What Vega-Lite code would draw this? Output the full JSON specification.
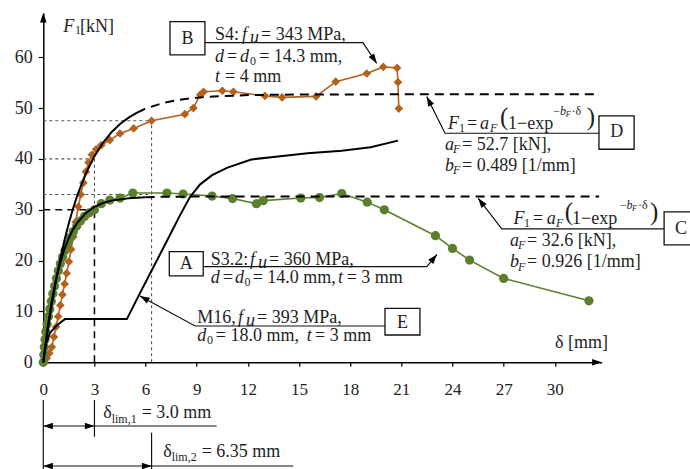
{
"$schema":"https://vega.github.io/schema/vega-lite/v6.json",
"width":558.4,"height":349.3,
"autosize":{"type":"none"},
"padding":{"left":43.3,"top":13,"right":88.3,"bottom":106.7},
"background":"white",
"config":{"view":{"stroke":null},"font":"Liberation Serif","text":{"font":"Liberation Serif","color":"#1e1e1e"}},
"datasets":{
"s4":[{"x":0,"y":0},{"x":0.2,"y":0.8},{"x":0.35,"y":1.8},{"x":0.5,"y":3},{"x":0.62,"y":5},{"x":0.75,"y":7},{"x":0.87,"y":9},{"x":1.0,"y":11.2},{"x":1.12,"y":13.3},{"x":1.25,"y":15.4},{"x":1.37,"y":17.5},{"x":1.5,"y":19.8},{"x":1.63,"y":22.2},{"x":1.76,"y":24.7},{"x":1.9,"y":27.6},{"x":2.05,"y":30.6},{"x":2.2,"y":33},{"x":2.35,"y":35.3},{"x":2.5,"y":37.5},{"x":2.65,"y":39.3},{"x":2.85,"y":40.8},{"x":3.1,"y":41.9},{"x":3.4,"y":42.7},{"x":3.9,"y":43.7},{"x":4.5,"y":45},{"x":5.3,"y":46},{"x":6.35,"y":47.5},{"x":8.3,"y":48.8},{"x":8.8,"y":50},{"x":9.2,"y":52.6},{"x":9.4,"y":53.2},{"x":10.5,"y":53.4},{"x":11.15,"y":53.2},{"x":13.0,"y":52.4},{"x":14.0,"y":52.1},{"x":16.0,"y":52.3},{"x":17.15,"y":55.2},{"x":18.97,"y":56.8},{"x":19.94,"y":58.1},{"x":20.75,"y":57.9},{"x":20.8,"y":55.1},{"x":20.85,"y":49.9}],
"s32":[{"x":0,"y":0},{"x":0.03,"y":1.5},{"x":0.06,"y":3},{"x":0.1,"y":4.5},{"x":0.15,"y":6},{"x":0.22,"y":7.5},{"x":0.3,"y":9},{"x":0.38,"y":10.5},{"x":0.47,"y":12},{"x":0.56,"y":13.5},{"x":0.66,"y":15},{"x":0.77,"y":16.5},{"x":0.88,"y":18},{"x":1.0,"y":19.4},{"x":1.13,"y":20.7},{"x":1.27,"y":22},{"x":1.42,"y":23.3},{"x":1.58,"y":24.5},{"x":1.76,"y":25.7},{"x":1.96,"y":26.8},{"x":2.18,"y":27.8},{"x":2.42,"y":28.7},{"x":2.7,"y":29.4},{"x":3.0,"y":30},{"x":3.4,"y":31.2},{"x":3.9,"y":31.9},{"x":4.5,"y":32.3},{"x":5.25,"y":33.3},{"x":7.25,"y":33.3},{"x":8.2,"y":33.1},{"x":9.9,"y":32.7},{"x":11.1,"y":32.2},{"x":12.5,"y":31.2},{"x":12.9,"y":31.8},{"x":15.1,"y":32.3},{"x":16.2,"y":32.4},{"x":17.5,"y":33.2},{"x":19.0,"y":31.5},{"x":20.0,"y":30.0},{"x":23.0,"y":24.9},{"x":24.0,"y":22.4},{"x":25.0,"y":20.1},{"x":27.0,"y":16.5},{"x":32.0,"y":12.1}],
"m16":[{"x":0,"y":0},{"x":0.15,"y":3.5},{"x":0.4,"y":5.8},{"x":0.8,"y":7.3},{"x":1.27,"y":8.5},{"x":4.9,"y":8.5},{"x":5.7,"y":13.8},{"x":6.5,"y":19},{"x":7.3,"y":24.2},{"x":8.0,"y":28.8},{"x":8.6,"y":32.5},{"x":9.2,"y":35},{"x":9.9,"y":36.8},{"x":10.8,"y":38.3},{"x":12.2,"y":39.9},{"x":13.5,"y":40.4},{"x":15.5,"y":41.1},{"x":17.5,"y":41.6},{"x":19.2,"y":42.3},{"x":20.8,"y":43.6}],
"fit":[
{"c":"D","part":"solid","x":0,"y":0},{"c":"D","part":"solid","x":0.25,"y":6.07},{"c":"D","part":"solid","x":0.5,"y":11.43},{"c":"D","part":"solid","x":0.75,"y":16.18},{"c":"D","part":"solid","x":1,"y":20.38},{"c":"D","part":"solid","x":1.25,"y":24.1},{"c":"D","part":"solid","x":1.5,"y":27.39},{"c":"D","part":"solid","x":1.75,"y":30.3},{"c":"D","part":"solid","x":2,"y":32.88},{"c":"D","part":"solid","x":2.5,"y":37.18},{"c":"D","part":"solid","x":3,"y":40.55},{"c":"D","part":"solid","x":3.5,"y":43.18},{"c":"D","part":"solid","x":4,"y":45.25},{"c":"D","part":"solid","x":4.5,"y":46.86},{"c":"D","part":"solid","x":5,"y":48.13},{"c":"D","part":"solid","x":5.5,"y":49.12},
{"c":"D","part":"dash","x":5.5,"y":49.12},{"c":"D","part":"dash","x":6,"y":49.9},{"c":"D","part":"dash","x":7,"y":50.98},{"c":"D","part":"dash","x":8,"y":51.65},{"c":"D","part":"dash","x":9,"y":52.05},{"c":"D","part":"dash","x":10,"y":52.3},{"c":"D","part":"dash","x":12,"y":52.55},{"c":"D","part":"dash","x":15,"y":52.67},{"c":"D","part":"dash","x":20,"y":52.7},{"c":"D","part":"dash","x":32.6,"y":52.7},
{"c":"C","part":"solid","x":0,"y":0},{"c":"C","part":"solid","x":0.1,"y":2.88},{"c":"C","part":"solid","x":0.25,"y":6.74},{"c":"C","part":"solid","x":0.5,"y":12.08},{"c":"C","part":"solid","x":0.75,"y":16.32},{"c":"C","part":"solid","x":1,"y":19.69},{"c":"C","part":"solid","x":1.25,"y":22.35},{"c":"C","part":"solid","x":1.5,"y":24.47},{"c":"C","part":"solid","x":1.75,"y":26.15},{"c":"C","part":"solid","x":2,"y":27.48},{"c":"C","part":"solid","x":2.5,"y":29.38},{"c":"C","part":"solid","x":3,"y":30.57},{"c":"C","part":"solid","x":3.5,"y":31.32},{"c":"C","part":"solid","x":4,"y":31.8},{"c":"C","part":"solid","x":5,"y":32.28},{"c":"C","part":"solid","x":6,"y":32.47},
{"c":"C","part":"dash","x":6,"y":32.47},{"c":"C","part":"dash","x":7,"y":32.55},{"c":"C","part":"dash","x":8,"y":32.58},{"c":"C","part":"dash","x":10,"y":32.6},{"c":"C","part":"dash","x":32.6,"y":32.6}],
"dotted":[{"x":0,"y":47.5,"x2":6.35,"y2":47.5},{"x":6.35,"y":0,"x2":6.35,"y2":47.5},{"x":0,"y":40,"x2":3,"y2":40},{"x":3,"y":30,"x2":3,"y2":40},{"x":0,"y":33,"x2":6.35,"y2":33}],
"dashed":[{"x":0,"y":30,"x2":3,"y2":30},{"x":3,"y":0,"x2":3,"y2":30}],
"dims":[{"x":0,"y":-7.42,"x2":0,"y2":-21},{"x":3,"y":-7.42,"x2":3,"y2":-14.64},{"x":0,"y":-12.53,"x2":10.17,"y2":-12.53},{"x":6.35,"y":-13.85,"x2":6.35,"y2":-21},{"x":0,"y":-20.4,"x2":14.66,"y2":-20.4}],
"leaders":[
{"id":"B","k":0,"x":9.48,"y":62.88},{"id":"B","k":1,"x":18.75,"y":62.88},{"id":"B","k":2,"x":19.55,"y":58.8},
{"id":"D","k":0,"x":32.59,"y":45.05},{"id":"D","k":1,"x":23.56,"y":45.05},{"id":"D","k":2,"x":22.49,"y":52.25},
{"id":"C","k":0,"x":36.41,"y":26.23},{"id":"C","k":1,"x":26.89,"y":26.23},{"id":"C","k":2,"x":25.51,"y":32.26},
{"id":"A","k":0,"x":9.38,"y":18.81},{"id":"A","k":1,"x":22.49,"y":18.81},{"id":"A","k":2,"x":23.09,"y":21.21},
{"id":"E","k":0,"x":20.04,"y":7.14},{"id":"E","k":1,"x":8.9,"y":7.14},{"id":"E","k":2,"x":5.67,"y":13.04}],
"heads":[{"id":"B","x":19.36,"y":59.81},{"id":"D","x":22.65,"y":51.19},{"id":"C","x":25.72,"y":31.32},{"id":"A","x":22.86,"y":20.31},{"id":"E","x":5.98,"y":12.47},{"id":"L1","x":0.352,"y":-12.53},{"id":"R1","x":2.648,"y":-12.53},{"id":"L2","x":0.352,"y":-20.4},{"id":"R2","x":5.998,"y":-20.4},{"id":"AX","x":32.398,"y":0},{"id":"AY","x":0,"y":67.52}],
"boxes":[{"x":7.43,"x2":9.48,"y":67.01,"y2":60.46},{"x":32.59,"x2":34.65,"y":48.46,"y2":41.9},{"x":36.41,"x2":38.52,"y":29.57,"y2":23.08},{"x":7.39,"x2":9.38,"y":21.76,"y2":16.98},{"x":20.04,"x2":22.09,"y":10.62,"y2":5.37}],
"labels":[
{"role":"box","t":"B","x":8.46,"y":63.57},{"role":"box","t":"D","x":33.63,"y":45.21},{"role":"box","t":"C","x":37.4,"y":26.23},{"role":"box","t":"A","x":8.39,"y":19.34},{"role":"box","t":"E","x":21.07,"y":7.73},
{"role":"n","t":"S4:","x":10.07,"y":63.41},{"role":"n","t":"= 343 MPa,","x":12.77,"y":63.41},
{"role":"n","t":"=","x":10.77,"y":59.08},{"role":"n","t":"= 14.3 mm,","x":12.66,"y":59.08},
{"role":"n","t":"= 4 mm","x":10.66,"y":55.14},
{"role":"n","t":"S3.2:","x":9.82,"y":19.14},{"role":"n","t":"= 360 MPa,","x":13.24,"y":19.14},
{"role":"n","t":"=","x":10.54,"y":15.54},{"role":"n","t":"= 14.0 mm,","x":12.28,"y":15.54},{"role":"n","t":"= 3 mm","x":17.79,"y":15.54},
{"role":"n","t":"M16,","x":9.03,"y":7.67},{"role":"n","t":"= 393 MPa,","x":12.54,"y":7.67},
{"role":"n","t":"= 18.0 mm,","x":10.12,"y":4.19},{"role":"n","t":"= 3 mm","x":15.94,"y":4.19},
{"role":"n","t":"=","x":24.85,"y":45.84},{"role":"n","t":"1−exp","x":27.26,"y":45.84},
{"role":"n","t":"= 52.7 [kN],","x":24.56,"y":41.77},{"role":"n","t":"= 0.489 [1/mm]","x":24.56,"y":37.64},
{"role":"n","t":"=","x":28.72,"y":27.21},{"role":"n","t":"1−exp","x":31.01,"y":27.21},
{"role":"n","t":"= 32.6 [kN],","x":28.37,"y":22.88},{"role":"n","t":"= 0.926 [1/mm]","x":28.37,"y":18.69},
{"role":"n","t":"δ","x":3.52,"y":-11.02},{"role":"n","t":"= 3.0 mm","x":5.77,"y":-11.02},
{"role":"n","t":"δ","x":7.04,"y":-18.69},{"role":"n","t":"= 6.35 mm","x":9.29,"y":-18.69},
{"role":"n","t":"δ [mm]","x":30.01,"y":2.75},{"role":"n","t":"[kN]","x":2.15,"y":65.04},
{"role":"i","t":"f","x":11.65,"y":63.41},{"role":"i","t":"u","x":12.12,"y":62.82},
{"role":"i","t":"d","x":10.07,"y":59.08},{"role":"i","t":"d","x":11.54,"y":59.08},{"role":"i","t":"t","x":10.07,"y":55.14},
{"role":"i","t":"f","x":12.12,"y":19.14},{"role":"i","t":"u","x":12.59,"y":18.55},
{"role":"i","t":"d","x":9.82,"y":15.54},{"role":"i","t":"d","x":11.24,"y":15.54},{"role":"i","t":"t","x":17.28,"y":15.54},
{"role":"i","t":"f","x":11.42,"y":7.67},{"role":"i","t":"u","x":11.89,"y":7.08},
{"role":"i","t":"d","x":9.03,"y":4.19},{"role":"i","t":"t","x":15.45,"y":4.19},
{"role":"i","t":"F","x":23.74,"y":45.84},{"role":"i","t":"a","x":25.61,"y":45.84},{"role":"i","t":"a","x":23.56,"y":41.77},{"role":"i","t":"b","x":23.56,"y":37.64},
{"role":"i","t":"F","x":27.57,"y":27.21},{"role":"i","t":"a","x":29.53,"y":27.21},{"role":"i","t":"a","x":27.37,"y":22.88},{"role":"i","t":"b","x":27.37,"y":18.69},
{"role":"i","t":"F","x":1.17,"y":65.04},
{"role":"is","t":"F","x":26.2,"y":45.21},{"role":"is","t":"F","x":24.03,"y":41.08},{"role":"is","t":"F","x":24.03,"y":36.95},
{"role":"is","t":"F","x":30.07,"y":26.52},{"role":"is","t":"F","x":27.84,"y":22.19},{"role":"is","t":"F","x":27.84,"y":18.0},
{"role":"is","t":"b","x":30.31,"y":48.65},{"role":"is","t":"b","x":34.21,"y":30.16},
{"role":"iss","t":"F","x":30.64,"y":48.26},{"role":"iss","t":"F","x":34.53,"y":29.77},
{"role":"ns","t":"0","x":12.12,"y":58.49},{"role":"ns","t":"0","x":11.8,"y":14.91},{"role":"ns","t":"0","x":9.6,"y":3.6},
{"role":"ns","t":"1","x":24.38,"y":45.21},{"role":"ns","t":"1","x":28.19,"y":26.52},{"role":"ns","t":"1","x":1.86,"y":64.59},
{"role":"ns","t":"−","x":29.91,"y":48.65},{"role":"ns","t":"·δ","x":30.98,"y":48.65},
{"role":"ns","t":"−","x":33.82,"y":30.16},{"role":"ns","t":"·δ","x":34.88,"y":30.16},
{"role":"ns","t":"lim,1","x":4.01,"y":-11.88},{"role":"ns","t":"lim,2","x":7.53,"y":-19.36},
{"role":"p","t":"(","x":26.79,"y":46.69},{"role":"p","t":")","x":31.87,"y":46.69},
{"role":"p","t":"(","x":30.58,"y":28.0},{"role":"p","t":")","x":35.58,"y":28.0}]
},
"encoding":{
"x":{"field":"x","type":"quantitative","scale":{"domain":[0,32.75],"nice":false,"zero":false},
"axis":{"values":[0,3,6,9,12,15,18,21,24,27,30],"title":null,"grid":false,"domainColor":"#000","domainWidth":1.5,"tickColor":"#000","tickWidth":1.2,"tickSize":4,"labelFont":"Liberation Serif","labelFontSize":17,"labelColor":"#222","labelPadding":15,"labelFlush":false,"labelOverlap":false}},
"y":{"field":"y","type":"quantitative","scale":{"domain":[0,68.7],"nice":false,"zero":false},
"axis":{"values":[0,10,20,30,40,50,60],"title":null,"grid":false,"domainColor":"#000","domainWidth":1.5,"tickColor":"#000","tickWidth":1.2,"tickSize":5,"labelFont":"Liberation Serif","labelFontSize":18,"labelColor":"#222","labelPadding":6,"labelFlush":false,"labelOverlap":false}}
},
"layer":[
{"data":{"name":"dotted"},"mark":{"type":"rule","stroke":"#555","strokeWidth":1.1,"strokeDash":[3,3]},"encoding":{"x2":{"field":"x2"},"y2":{"field":"y2"}}},
{"data":{"name":"dashed"},"mark":{"type":"rule","stroke":"#111","strokeWidth":1.6,"strokeDash":[7,5]},"encoding":{"x2":{"field":"x2"},"y2":{"field":"y2"}}},
{"data":{"name":"s4"},"mark":{"type":"line","color":"#b4611e","strokeWidth":1.6,"point":{"shape":"diamond","size":75,"filled":true,"color":"#b4611e","opacity":1}},"encoding":{}},
{"data":{"name":"s32"},"mark":{"type":"line","color":"#5b7f2d","strokeWidth":1.6,"point":{"shape":"circle","size":85,"filled":true,"color":"#5b7f2d","opacity":1}},"encoding":{}},
{"data":{"name":"fit"},"transform":[{"filter":"datum.part === 'solid'"}],"mark":{"type":"line","color":"#000","strokeWidth":2},"encoding":{"detail":{"field":"c"}}},
{"data":{"name":"fit"},"transform":[{"filter":"datum.part === 'dash'"}],"mark":{"type":"line","color":"#000","strokeWidth":2,"strokeDash":[9,6]},"encoding":{"detail":{"field":"c"}}},
{"data":{"name":"m16"},"mark":{"type":"line","color":"#000","strokeWidth":2},"encoding":{}},
{"data":{"name":"leaders"},"mark":{"type":"line","color":"#111","strokeWidth":1.2},"encoding":{"detail":{"field":"id"},"order":{"field":"k"}}},
{"data":{"name":"dims"},"mark":{"type":"rule","stroke":"#111","strokeWidth":1.2},"encoding":{"x2":{"field":"x2"},"y2":{"field":"y2"}}},
{"data":{"name":"heads"},"mark":{"type":"point","shape":"M0,-1L0.55,0.6L-0.55,0.6Z","size":144,"filled":true,"color":"#000","opacity":1},
 "encoding":{"angle":{"field":"id","type":"nominal","scale":{"type":"ordinal","domain":["B","D","C","A","E","L1","R1","L2","R2","AX","AY"],"range":[146.4,333.4,322.7,40.5,298.6,270,90,270,90,90,0]},"legend":null}}},
{"data":{"name":"boxes"},"mark":{"type":"rect","fill":"white","stroke":"#111","strokeWidth":1.3},"encoding":{"x2":{"field":"x2"},"y2":{"field":"y2"}}},
{"data":{"name":"labels"},"transform":[{"filter":"datum.role === 'box'"}],"mark":{"type":"text","align":"center","baseline":"middle","fontSize":18},"encoding":{"text":{"field":"t"}}},
{"data":{"name":"labels"},"transform":[{"filter":"datum.role === 'n'"}],"mark":{"type":"text","align":"left","baseline":"alphabetic","fontSize":18},"encoding":{"text":{"field":"t"}}},
{"data":{"name":"labels"},"transform":[{"filter":"datum.role === 'i'"}],"mark":{"type":"text","align":"left","baseline":"alphabetic","fontSize":18,"fontStyle":"italic"},"encoding":{"text":{"field":"t"}}},
{"data":{"name":"labels"},"transform":[{"filter":"datum.role === 'is'"}],"mark":{"type":"text","align":"left","baseline":"alphabetic","fontSize":12,"fontStyle":"italic"},"encoding":{"text":{"field":"t"}}},
{"data":{"name":"labels"},"transform":[{"filter":"datum.role === 'iss'"}],"mark":{"type":"text","align":"left","baseline":"alphabetic","fontSize":8,"fontStyle":"italic"},"encoding":{"text":{"field":"t"}}},
{"data":{"name":"labels"},"transform":[{"filter":"datum.role === 'ns'"}],"mark":{"type":"text","align":"left","baseline":"alphabetic","fontSize":12},"encoding":{"text":{"field":"t"}}},
{"data":{"name":"labels"},"transform":[{"filter":"datum.role === 'p'"}],"mark":{"type":"text","align":"left","baseline":"alphabetic","fontSize":25},"encoding":{"text":{"field":"t"}}}
]
}
